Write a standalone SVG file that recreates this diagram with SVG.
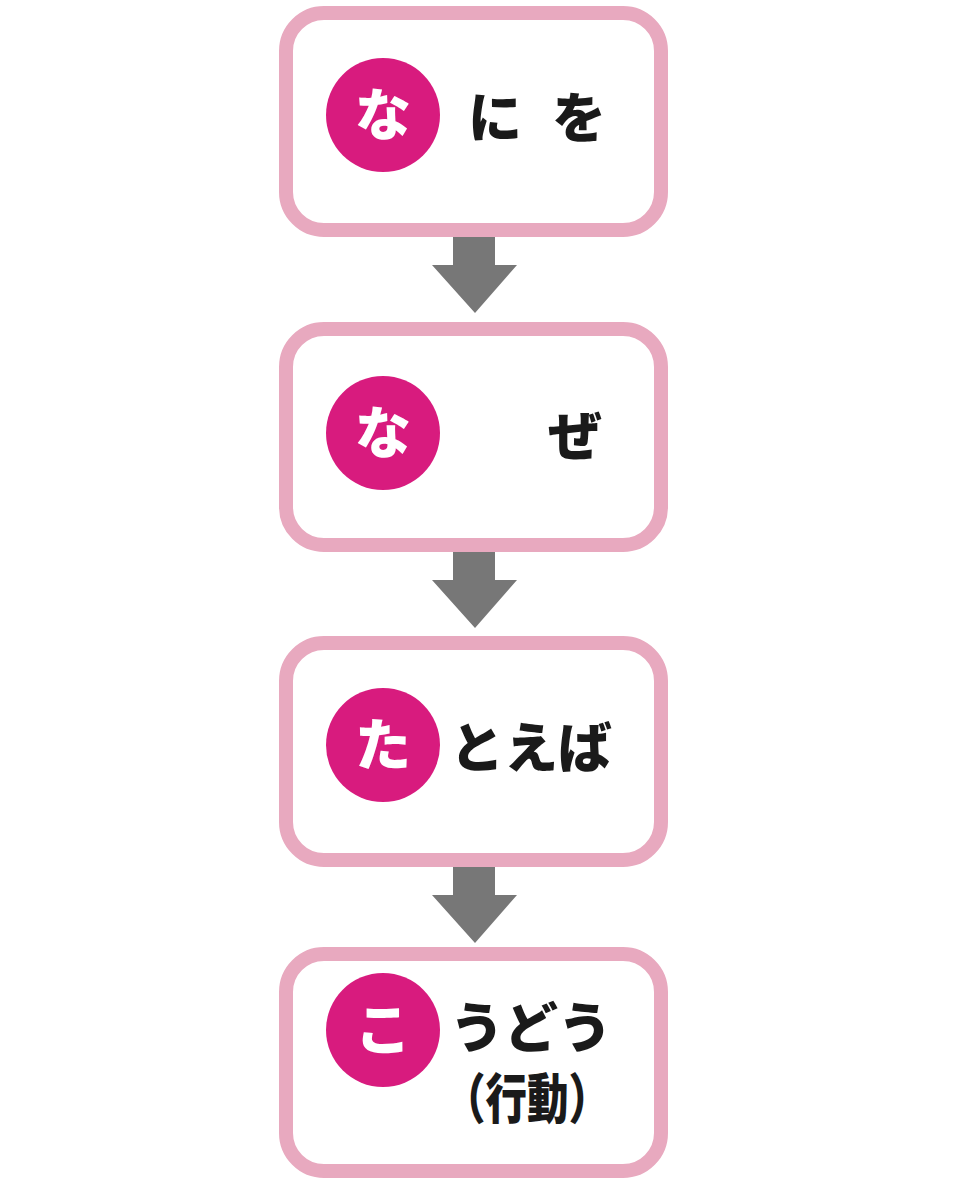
<svg xmlns="http://www.w3.org/2000/svg" width="960" height="1200" viewBox="0 0 960 1200">
<style>
.box{fill:#fff;stroke:#E8A9BF;stroke-width:14}
.badge{fill:#D81B7E}
.bt{font-family:"Noto Sans CJK JP","Noto Sans",sans-serif;font-weight:900;font-size:56px;fill:#fff;text-anchor:middle}
.lbl{font-family:"Noto Sans CJK JP","Noto Sans",sans-serif;font-weight:900;font-size:54px;fill:#1a1a1a}
.arr{fill:#777}
</style>
<rect width="960" height="1200" fill="#fff"/>
<g id="connectors">
<polygon class="arr" points="453,237 495,237 495,265 517,265 475,313 432,265 453,265"/>
<polygon class="arr" points="453,552 495,552 495,580 517,580 475,628 432,580 453,580"/>
<polygon class="arr" points="453,867 495,867 495,895 517,895 475,943 432,895 453,895"/>
</g>
<g id="node1">
<rect class="box" x="286" y="13" width="375" height="217" rx="38"/>
<circle class="badge" cx="383" cy="115" r="57"/>
<text class="bt" x="383" y="135">な</text>
<text class="lbl" x="468" y="138">に</text>
<text class="lbl" x="552" y="138">を</text>
</g>
<g id="node2">
<rect class="box" x="286" y="329" width="375" height="216" rx="38"/>
<circle class="badge" cx="383" cy="433" r="57"/>
<text class="bt" x="383" y="453">な</text>
<text class="lbl" x="548" y="456">ぜ</text>
</g>
<g id="node3">
<rect class="box" x="286" y="643" width="375" height="217" rx="38"/>
<circle class="badge" cx="383" cy="745" r="57"/>
<text class="bt" x="383" y="765">た</text>
<text class="lbl" x="450" y="768">とえば</text>
</g>
<g id="node4">
<rect class="box" x="286" y="954" width="375" height="217" rx="38"/>
<circle class="badge" cx="383" cy="1030" r="57"/>
<text class="bt" x="383" y="1050">こ</text>
<text class="lbl" x="450" y="1048">うどう</text>
<text class="lbl" x="444" y="1119" font-size="42" textLength="166" lengthAdjust="spacingAndGlyphs">（行動）</text>
</g>
</svg>
